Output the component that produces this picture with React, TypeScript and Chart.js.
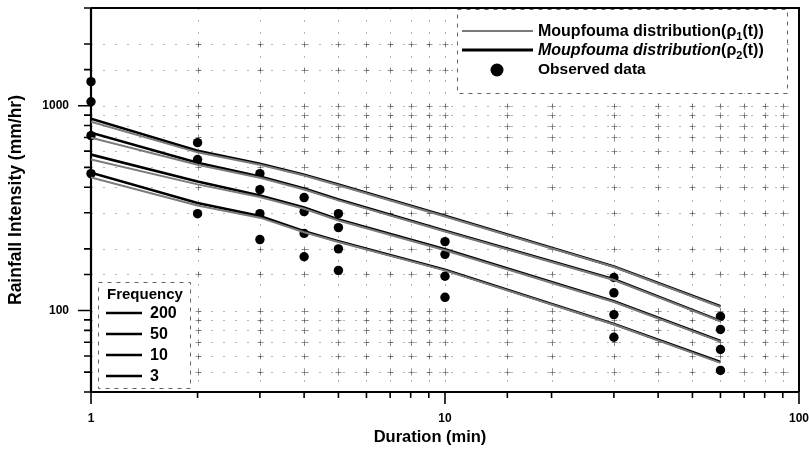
import React, { useEffect, useRef } from 'react';
import { Chart, registerables } from 'chart.js';

Chart.register(...registerables);

const FONT = '"Liberation Sans", Arial, Helvetica, sans-serif';

// Durations (min)
const durations = [1, 2, 3, 4, 5, 10, 30, 60];
const frequencies = ['200', '50', '10', '3'];

// Moupfouma distribution (rho2(t)) - thick black lines
const rho2_f200 = [864, 603, 521, 460, 412, 290, 164, 105];
const rho2_f50 = [738, 527, 451, 394, 348, 245, 142, 89];
const rho2_f10 = [577, 426, 364, 318, 278, 199, 111, 71];
const rho2_f3 = [471, 335, 289, 244, 218, 158, 86, 56];

// Moupfouma distribution (rho1(t)) - thin grey lines
const rho1_f200 = [835, 592, 515, 456, 409, 288, 163, 104];
const rho1_f50 = [698, 515, 445, 390, 345, 243, 141, 88.5];
const rho1_f10 = [546, 413, 358, 314, 275, 197, 110, 70.5];
const rho1_f3 = [446, 326, 284, 241, 216, 157, 85.5, 55.5];

// Observed data per duration
const obs_1 = [1310, 1046, 714, 466];
const obs_2 = [660, 546, 297];
const obs_3 = [466, 389, 297, 222];
const obs_4 = [356, 304, 238, 183];
const obs_5 = [297, 254, 200, 157];
const obs_10 = [217, 188, 147, 116];
const obs_30 = [145, 122, 95.5, 74];
const obs_60 = [93.6, 80.8, 64.5, 51];
const observed = [obs_1, obs_2, obs_3, obs_4, obs_5, obs_10, obs_30, obs_60];

// Axis ranges & labelled ticks
const xMin = 1;
const xMax = 100;
const yMin = 40;
const yMax = 3000;
const xTickLabels = [1, 10, 100];
const yTickLabels = [100, 1000];

const xTitle = 'Duration (min)';
const yTitle = 'Rainfall Intensity (mm/hr)';
const legendFreqTitle = 'Frequency';
const legendObs = 'Observed data';
const legendP1 = [
  { t: 'Moupfouma distribution(ρ' },
  { t: '1', sub: true },
  { t: '(t))' },
];
const legendP2 = [
  { t: 'Moupfouma distribution', italic: true },
  { t: '(ρ' },
  { t: '2', sub: true },
  { t: '(t))' },
];

type Part = { t: string; sub?: boolean; italic?: boolean };

function drawRich(ctx: CanvasRenderingContext2D, x: number, y: number, parts: Part[], size: number) {
  let cx = x;
  for (const p of parts) {
    const fs = p.sub ? Math.round(size * 0.68) : size;
    ctx.font = `${p.italic ? 'italic ' : ''}bold ${fs}px ${FONT}`;
    ctx.fillText(p.t, cx, p.sub ? y + size * 0.3 : y);
    cx += ctx.measureText(p.t).width;
  }
}

const isLabelled = (v: number, arr: number[]) => arr.some((a) => Math.abs(a - v) < 1e-6 * a);

const decorPlugin = {
  id: 'decor',
  beforeDatasetsDraw(chart: any) {
    const { ctx, chartArea: a, scales } = chart;
    const x = scales.x;
    const y = scales.y;
    ctx.save();
    const xs: number[] = x.ticks
      .map((t: any) => Math.round(x.getPixelForValue(t.value)) + 0.5)
      .filter((p: number) => p > a.left + 2 && p < a.right - 2);
    const ys: number[] = y.ticks
      .map((t: any) => Math.round(y.getPixelForValue(t.value)) + 0.5)
      .filter((p: number) => p > a.top + 2 && p < a.bottom - 2);
    // dashed grid
    ctx.strokeStyle = 'rgba(90,90,90,0.45)';
    ctx.lineWidth = 1;
    ctx.setLineDash([2, 10]);
    ctx.beginPath();
    xs.forEach((px) => {
      ctx.moveTo(px, a.top);
      ctx.lineTo(px, a.bottom);
    });
    ys.forEach((py) => {
      ctx.moveTo(a.left, py);
      ctx.lineTo(a.right, py);
    });
    ctx.stroke();
    // crosses at intersections
    ctx.setLineDash([]);
    ctx.strokeStyle = 'rgba(60,60,60,0.55)';
    ctx.beginPath();
    xs.forEach((px) => {
      ys.forEach((py) => {
        ctx.moveTo(px - 3, py);
        ctx.lineTo(px + 3, py);
        ctx.moveTo(px, py - 3);
        ctx.lineTo(px, py + 3);
      });
    });
    ctx.stroke();

    // frame
    ctx.strokeStyle = '#000';
    ctx.lineWidth = 2;
    ctx.beginPath();
    ctx.moveTo(a.left, a.top);
    ctx.lineTo(a.right, a.top);
    ctx.lineTo(a.right, a.bottom);
    ctx.stroke();
    ctx.lineWidth = 2.2;
    ctx.beginPath();
    ctx.moveTo(a.left, a.top);
    ctx.lineTo(a.left, a.bottom);
    ctx.lineTo(a.right, a.bottom);
    ctx.stroke();

    // tick marks
    ctx.lineWidth = 1.6;
    ctx.beginPath();
    x.ticks.forEach((t: any) => {
      const px = x.getPixelForValue(t.value);
      const len = isLabelled(t.value, xTickLabels) ? 12 : 6;
      ctx.moveTo(px, a.bottom);
      ctx.lineTo(px, a.bottom + len);
    });
    y.ticks.forEach((t: any) => {
      const py = y.getPixelForValue(t.value);
      const len = isLabelled(t.value, yTickLabels) ? 13 : 7;
      ctx.moveTo(a.left, py);
      ctx.lineTo(a.left - len, py);
    });
    ctx.stroke();
    ctx.restore();
  },
  afterDatasetsDraw(chart: any) {
    const { ctx, chartArea: a } = chart;
    ctx.save();
    ctx.textBaseline = 'middle';
    ctx.textAlign = 'left';
    ctx.fillStyle = '#000';

    // x axis title
    ctx.textAlign = 'center';
    ctx.font = `bold 16.5px ${FONT}`;
    ctx.fillText(xTitle, a.left + 339, a.bottom + 45);
    ctx.textAlign = 'left';

    // top-right legend
    const bx = a.right - 342;
    const by = a.top + 1;
    const bw = 330;
    const bh = 84;
    ctx.fillStyle = '#fff';
    ctx.fillRect(bx, by, bw, bh);
    ctx.strokeStyle = 'rgba(60,60,60,0.8)';
    ctx.lineWidth = 1;
    ctx.setLineDash([4, 5]);
    ctx.strokeRect(bx + 0.5, by + 0.5, bw, bh);
    ctx.setLineDash([]);

    const lx1 = a.right - 337;
    const lx2 = a.right - 266;
    const tx = a.right - 261;
    // entry 1
    ctx.strokeStyle = '#7a7a7a';
    ctx.lineWidth = 2;
    ctx.beginPath();
    ctx.moveTo(lx1, a.top + 23);
    ctx.lineTo(lx2, a.top + 23);
    ctx.stroke();
    ctx.fillStyle = '#000';
    drawRich(ctx, tx, a.top + 24, legendP1, 16);
    // entry 2
    ctx.strokeStyle = '#000';
    ctx.lineWidth = 3;
    ctx.beginPath();
    ctx.moveTo(lx1, a.top + 42);
    ctx.lineTo(lx2, a.top + 42);
    ctx.stroke();
    drawRich(ctx, tx, a.top + 43, legendP2, 16);
    // entry 3
    ctx.beginPath();
    ctx.arc(a.right - 302, a.top + 62, 6.5, 0, Math.PI * 2);
    ctx.fill();
    ctx.font = `bold 15.5px ${FONT}`;
    ctx.fillText(legendObs, tx, a.top + 62);

    // bottom-left Frequency legend
    const fx = a.left + 7;
    const fy = a.bottom - 110;
    const fw = 92;
    const fh = 106;
    ctx.fillStyle = '#fff';
    ctx.fillRect(fx, fy, fw, fh);
    ctx.strokeStyle = 'rgba(60,60,60,0.8)';
    ctx.lineWidth = 1;
    ctx.setLineDash([4, 5]);
    ctx.strokeRect(fx + 0.5, fy + 0.5, fw, fh);
    ctx.setLineDash([]);
    ctx.fillStyle = '#000';
    ctx.font = `bold 15px ${FONT}`;
    ctx.fillText(legendFreqTitle, a.left + 16, a.bottom - 97);
    const rows = [a.bottom - 79, a.bottom - 58, a.bottom - 37, a.bottom - 16];
    ctx.strokeStyle = '#000';
    ctx.lineWidth = 2.5;
    frequencies.forEach((f, i) => {
      ctx.beginPath();
      ctx.moveTo(a.left + 15, rows[i]);
      ctx.lineTo(a.left + 51, rows[i]);
      ctx.stroke();
      ctx.font = `bold 16px ${FONT}`;
      ctx.fillText(f, a.left + 59, rows[i] + 1);
    });
    ctx.restore();
  },
};

const toPts = (vals: number[]) => vals.map((v, i) => ({ x: durations[i], y: v }));

export default function App() {
  const ref = useRef<HTMLCanvasElement | null>(null);

  useEffect(() => {
    if (!ref.current) return;
    const lineDs = (label: string, vals: number[], thick: boolean) => ({
      label,
      data: toPts(vals),
      showLine: true,
      borderColor: thick ? '#000' : '#7a7a7a',
      borderWidth: thick ? 2.6 : 2,
      pointRadius: 0,
      fill: false,
      tension: 0,
    });
    const obsPts: { x: number; y: number }[] = [];
    observed.forEach((vals, i) => vals.forEach((v) => obsPts.push({ x: durations[i], y: v })));

    const chart = new Chart(ref.current, {
      type: 'scatter',
      data: {
        datasets: [
          lineDs('rho1 200', rho1_f200, false),
          lineDs('rho1 50', rho1_f50, false),
          lineDs('rho1 10', rho1_f10, false),
          lineDs('rho1 3', rho1_f3, false),
          lineDs('rho2 200', rho2_f200, true),
          lineDs('rho2 50', rho2_f50, true),
          lineDs('rho2 10', rho2_f10, true),
          lineDs('rho2 3', rho2_f3, true),
          {
            label: legendObs,
            data: obsPts,
            showLine: false,
            pointRadius: 4.7,
            pointBackgroundColor: '#000',
            pointBorderColor: '#000',
            pointBorderWidth: 0,
            clip: false,
          } as any,
        ],
      },
      options: {
        responsive: false,
        animation: false,
        layout: { padding: { left: 0, right: 10, top: 8, bottom: 0 } },
        plugins: { legend: { display: false }, tooltip: { enabled: false } },
        scales: {
          x: {
            type: 'logarithmic',
            min: xMin,
            max: xMax,
            afterFit: (s: any) => {
              s.height = 58;
            },
            grid: { display: false, drawTicks: true, tickLength: 19 },
            border: { display: false },
            ticks: {
              autoSkip: false,
              maxRotation: 0,
              padding: 0,
              color: '#000',
              font: { family: FONT, size: 12, weight: 'bold' },
              callback: (v: any) => (isLabelled(Number(v), xTickLabels) ? String(Number(v)) : ''),
            },
            title: { display: false, text: xTitle },
          },
          y: {
            type: 'logarithmic',
            min: yMin,
            max: yMax,
            afterFit: (s: any) => {
              s.width = 91;
            },
            grid: { display: false, drawTicks: true, tickLength: 22 },
            border: { display: false },
            ticks: {
              autoSkip: false,
              padding: 0,
              color: '#000',
              font: { family: FONT, size: 12, weight: 'bold', lineHeight: 1 },
              callback: (v: any) => (isLabelled(Number(v), yTickLabels) ? String(Number(v)) : ''),
            },
            title: {
              display: true,
              text: yTitle,
              color: '#000',
              font: { family: FONT, size: 17.5, weight: 'bold' },
              padding: { top: 6, bottom: 0 },
            },
          },
        },
      } as any,
      plugins: [decorPlugin],
    });
    return () => chart.destroy();
  }, []);

  return (
    <div style={{ position: 'fixed', left: 0, top: 0, width: 809, height: 450, background: '#fff' }}>
      <canvas ref={ref} width={809} height={450} style={{ display: 'block' }} />
    </div>
  );
}
